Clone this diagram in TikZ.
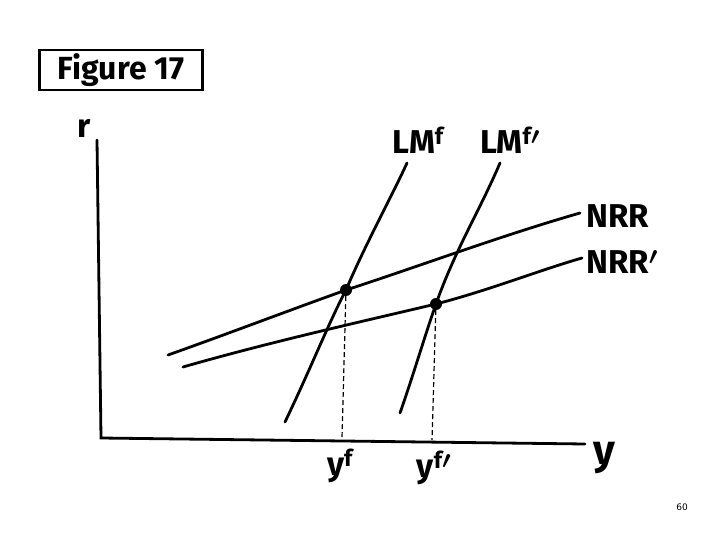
\documentclass[tikz,border=0pt]{standalone}
\usepackage{amsmath}
\usepackage{fontspec}
\setmainfont{Fira Sans}
\setsansfont{DejaVu Sans}
\begin{document}
\begin{tikzpicture}[x=1pt,y=-1pt,
  curve/.style={line width=2.8pt,line cap=round,black},
  axisline/.style={line width=2.8pt,line cap=round,black},
  guide/.style={line width=1.2pt,dash pattern=on 5pt off 3pt},
  lbl/.style={font=\fontsize{33}{36}\selectfont\bfseries,inner sep=0pt},
  pt/.style={circle,fill=black,inner sep=0pt,minimum size=12pt}]
\useasboundingbox[fill=white] (0,0) rectangle (720,540);
% title box
\node[draw,line width=2.6pt,minimum width=163pt,minimum height=36pt,font=\fontsize{32}{34}\selectfont\bfseries] (title) at (121,70) {Figure 17};
% axes
\coordinate (o) at (101,438);
\coordinate (rtop) at (97,140);
\coordinate (yend) at (585,444);
\draw[axisline] (rtop) -- (o) -- (yend);
\node[lbl] (rl) at (84,128) {r};
\node[lbl,font=\fontsize{42}{44}\selectfont\bfseries] (yl) at (604,458) {y};
% intersections
\node[pt] (e1) at (346,290) {};
\node[pt] (e2) at (436,304) {};
% NRR curves
\coordinate (n1a) at (168,355);
\coordinate (n1b) at (580,213);
\coordinate (n2a) at (183,367);
\coordinate (n2b) at (582,258);
\draw[curve] (n1a) .. controls (230,333) and (290,310) .. (e1.center) .. controls (420,266) and (500,236) .. (n1b);
\draw[curve] (n2a) .. controls (270,342) and (360,322) .. (e2.center) .. controls (490,290) and (540,270) .. (n2b);
\node[lbl,anchor=west] (nrr) at (586,216) {NRR};
\node[lbl,anchor=west] (nrr2) at (586,262) {NRR$\boldsymbol{'}$};
% LM curves
\coordinate (l1a) at (285,422);
\coordinate (l1b) at (407,163);
\coordinate (l2a) at (400,413);
\coordinate (l2b) at (500,163);
\draw[curve] (l1a) .. controls (310,370) and (330,320) .. (e1.center) .. controls (365,245) and (390,200) .. (l1b);
\draw[curve] (l2a) .. controls (415,370) and (425,335) .. (e2.center) .. controls (455,250) and (480,210) .. (l2b);
\node[lbl] (lm1) at (418,140) {LM$^{\mathbf{f}}$};
\node[lbl] (lm2) at (510,140) {LM$^{\mathbf{f}\boldsymbol{\prime}}$};
% dashed guides
\coordinate (d1) at (342,438);
\coordinate (d2) at (432,440);
\draw[guide] (e1) -- (d1);
\draw[guide] (e2) -- (d2);
\node[lbl] (yf) at (340,466) {y$^{\mathbf{f}}$};
\node[lbl] (yf2) at (434,468) {y$^{\mathbf{f}\boldsymbol{\prime}}$};
% page number
\node[font=\sffamily\fontsize{9}{10}\selectfont] (pg) at (682,507) {60};
\end{tikzpicture}
\end{document}
